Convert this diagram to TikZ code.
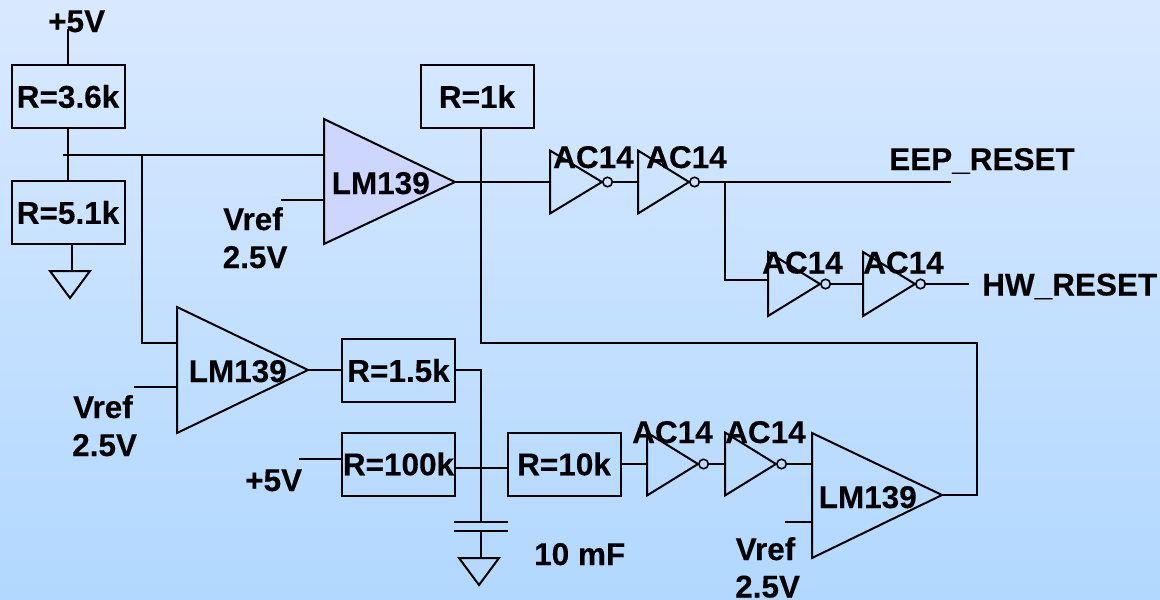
\documentclass[tikz,border=0pt]{standalone}
\usepackage{fontspec}
\setmainfont[BoldFeatures={FakeBold=0.25}]{Liberation Sans}
\definecolor{bgtop}{RGB}{216,233,255}
\definecolor{bgbot}{RGB}{178,216,255}
\definecolor{ampfill}{RGB}{204,214,255}
\tikzset{
  wire/.style={draw=black,line width=2pt,line cap=butt,line join=miter},
  res/.style={draw=black,line width=2pt,minimum width=113pt,minimum height=63pt,inner sep=0pt,
     font=\fontsize{31.5}{36}\selectfont\bfseries},
  lab/.style={inner sep=0pt,anchor=base west,font=\fontsize{31.5}{36}\selectfont\bfseries},
  bubble/.style={circle,draw=black,line width=1.6pt,minimum size=9.5pt,inner sep=0pt},
}
% amplifier: name, left x, top y, bottom y, tip x, tip y, fill
\newcommand{\opampshape}[7]{%
  \coordinate (#1-t) at (#2,#3);
  \coordinate (#1-b) at (#2,#4);
  \coordinate (#1-o) at (#5,#6);
  \draw[wire,fill=#7] (#1-t) -- (#1-o) -- (#1-b) -- cycle;}
% inverter: name, left x, tip x, mid y, half height
\newcommand{\invshape}[5]{%
  \coordinate (#1-t) at (#2,#4-#5);
  \coordinate (#1-b) at (#2,#4+#5);
  \coordinate (#1-i) at (#2,#4);
  \coordinate (#1-p) at (#3,#4);
  \draw[wire] (#1-t) -- (#1-p) -- (#1-b) -- cycle;
  \node[bubble,anchor=west] (#1-n) at (#3,#4) {};}
% ground: name, left x, right x, top y, apex x, apex y
\newcommand{\gndshape}[6]{%
  \coordinate (#1-l) at (#2,#4);
  \coordinate (#1-r) at (#3,#4);
  \coordinate (#1-a) at (#5,#6);
  \draw[wire] (#1-l) -- (#1-r) -- (#1-a) -- cycle;}
\begin{document}
\begin{tikzpicture}[x=1pt,y=-1pt]
\useasboundingbox (0,0) rectangle (1160,600);
\shade[top color=bgtop,bottom color=bgbot] (0,0) rectangle (1160,600);

% resistors
\node[res] (r36) at (68,96.5) {R=3.6k};
\node[res] (r51) at (68,212.5) {R=5.1k};
\node[res] (r1k) at (477,96.5) {R=1k};
\node[res] (r15) at (398.5,370.5) {R=1.5k};
\node[res] (r100) at (398.5,464) {R=100k};
\node[res] (r10) at (564,464) {R=10k};

% amplifiers
\opampshape{a1}{324}{119}{244}{455}{182}{ampfill}
\opampshape{a2}{177}{307}{433}{308}{370}{none}
\opampshape{a3}{812}{433}{558}{942}{495}{none}

% inverters
\invshape{i1}{550}{602}{182}{31.5}
\invshape{i2}{638}{689}{182}{31.5}
\invshape{i3}{768}{820}{284}{32}
\invshape{i4}{863}{915}{284}{32}
\invshape{i5}{647}{698}{464}{31.5}
\invshape{i6}{725}{776}{464}{31.5}

% grounds
\gndshape{g1}{50}{90}{271}{70}{298}
\gndshape{g2}{459}{499}{558}{479}{585}

% free ends and junctions
\coordinate (p5top) at (68,29);
\coordinate (j1l) at (63,155);
\coordinate (j2) at (142,155);
\coordinate (j2b) at (142,343);
\coordinate (a1m) at (324,200);
\coordinate (a1r) at (281,200);
\coordinate (a2m) at (177,387);
\coordinate (a2r) at (134,387);
\coordinate (a3m) at (812,522);
\coordinate (a3r) at (785,522);
\coordinate (g1w) at (72,271);
\coordinate (capt) at (481,522);
\coordinate (capb) at (481,531);
\coordinate (capg) at (481,558);
\coordinate (fb1) at (977,495);
\coordinate (fb2) at (977,343);
\coordinate (fb3) at (481,343);
\coordinate (eep) at (951,182);
\coordinate (hw) at (969,284);
\coordinate (br) at (724.5,182);
\coordinate (brb) at (724.5,280);
\coordinate (plus) at (299,459);
\coordinate (n15) at (481,370);
\coordinate (n100) at (455,468);

% connectors
\draw[wire] (p5top) -- (r36.north);
\draw[wire] (r36.south) -- (r51.north);
\draw[wire] (j1l) -- (a1-t |- j1l);
\draw[wire] (j2) -- (j2b) -- (a2-t |- j2b);
\draw[wire] (a1r) -- (a1m);
\draw[wire] (a2r) -- (a2m);
\draw[wire] (a3r) -- (a3m);
\draw[wire] (r51.south -| g1w) -- (g1w);
\draw[wire] (a1-o) -- (i1-i);
\draw[wire] (r1k.south -| fb3) -- (fb3) -- (fb2) -- (fb1) -- (a3-o);
\draw[wire] (i1-n.east) -- (i2-i);
\draw[wire] (i2-n.east) -- (eep);
\draw[wire] (br) -- (brb) -- (brb -| i3-i);
\draw[wire] (i3-n.east) -- (i4-i);
\draw[wire] (i4-n.east) -- (hw);
\draw[wire] (a2-o) -- (r15.west |- a2-o);
\draw[wire] (r15.east |- n15) -- (n15) -- (capt);
\draw[wire] (plus) -- (r100.west |- plus);
\draw[wire] (n100) -- (r10.west |- n100);
\draw[wire] (r10.east) -- (i5-i);
\draw[wire] (i5-n.east) -- (i6-i);
\draw[wire] (i6-n.east) -- (a3-t |- i6-n);
\draw[wire] (capb) -- (capg);
\coordinate (c1l) at (454,522);
\coordinate (c1r) at (508,522);
\coordinate (c2l) at (454,531);
\coordinate (c2r) at (508,531);
\draw[wire] (c1l) -- (c1r);
\draw[wire] (c2l) -- (c2r);

% labels
\node[lab] (t5a) at (48,32) {+5V};
\node[lab] (t5b) at (245,491) {+5V};
\node[lab] (la1) at (331.5,194) {LM139};
\node[lab] (la2) at (188.5,382) {LM139};
\node[lab] (la3) at (818.5,508) {LM139};
\node[lab] (v1) at (223,230) {Vref};
\node[lab] (v1b) at (222.5,268) {2.5V};
\node[lab] (v2) at (73,418) {Vref};
\node[lab] (v2b) at (72,456) {2.5V};
\node[lab] (v3) at (735.5,560) {Vref};
\node[lab] (v3b) at (735,597.5) {2.5V};
\node[lab] (ac1) at (553,168) {AC14};
\node[lab] (ac2) at (646,168) {AC14};
\node[lab] (ac3) at (762,273.5) {AC14};
\node[lab] (ac4) at (863,273.5) {AC14};
\node[lab] (ac5) at (632,443) {AC14};
\node[lab] (ac6) at (725,443) {AC14};
\node[lab] (ee) at (889,170) {EEP\_RESET};
\node[lab] (hwt) at (982,295.5) {HW\_RESET};
\node[lab] (cap) at (534,565) {10 mF};
\end{tikzpicture}
\end{document}
